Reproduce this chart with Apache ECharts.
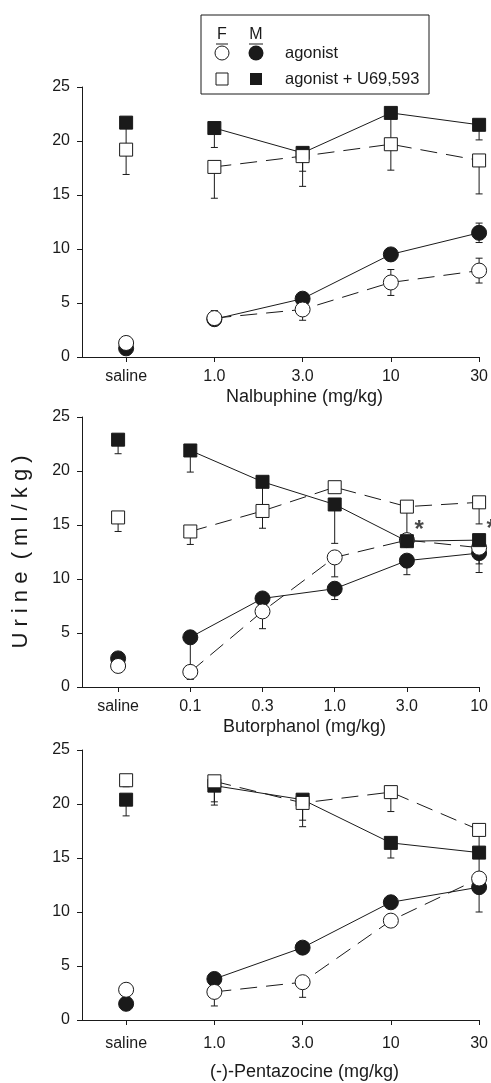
<!DOCTYPE html>
<html>
<head>
<meta charset="utf-8">
<script src="https://cdn.jsdelivr.net/npm/echarts@6/dist/echarts.min.js"></script>
<style>
  body { margin: 0; background: #fff; }
  #main { width: 491px; height: 1083px; }
</style>
</head>
<body>
<div id="main"></div>
<script>
// dose labels per panel
var nalbDoses = ['saline', '1.0', '3.0', '10', '30'];
var butoDoses = ['saline', '0.1', '0.3', '1.0', '3.0', '10'];
var pentDoses = ['saline', '1.0', '3.0', '10', '30'];
var yTicks = [0, 5, 10, 15, 20, 25];

// Nalbuphine: means and SEM (down / up)
var nalbFAg = [1.3, 3.6, 4.4, 6.9, 8.0];
var nalbFAgDn = [0, 0, 1.0, 1.2, 1.15];
var nalbFAgUp = [0, 0.7, 0, 1.2, 1.15];
var nalbMAg = [0.8, 3.5, 5.4, 9.5, 11.5];
var nalbMAgDn = [0, 0, 0, 0, 0.9];
var nalbMAgUp = [0, 0, 0, 0, 0.9];
var nalbFU = [19.2, 17.6, 18.6, 19.7, 18.2];
var nalbFUDn = [2.3, 2.9, 2.8, 2.4, 3.1];
var nalbMU = [21.7, 21.2, 18.9, 22.6, 21.5];
var nalbMUDn = [2.6, 1.8, 1.7, 3.0, 1.4];

// Butorphanol
var butoFAg = [1.95, 1.4, 7.0, 12.0, 13.6, 12.9];
var butoFAgDn = [0, 0.7, 1.6, 1.8, 0, 1.5];
var butoMAg = [2.65, 4.6, 8.2, 9.1, 11.7, 12.4];
var butoMAgDn = [0, 3.3, 0, 1.0, 1.3, 1.8];
var butoFU = [15.7, 14.4, 16.3, 18.5, 16.7, 17.1];
var butoFUDn = [1.3, 1.2, 1.6, 0, 3.2, 2.0];
var butoMU = [22.9, 21.9, 19.0, 16.9, 13.5, 13.6];
var butoMUDn = [1.3, 2.0, 2.7, 3.6, 0, 0];
var butoStars = [4, 5];
var butoStarY = [13.5, 13.6];

// Pentazocine
var pentFAg = [2.8, 2.6, 3.5, 9.2, 13.1];
var pentFAgDn = [0, 1.3, 1.4, 0, 0];
var pentMAg = [1.5, 3.8, 6.7, 10.9, 12.3];
var pentMAgDn = [0, 0, 0.2, 0, 2.3];
var pentFU = [22.2, 22.1, 20.1, 21.1, 17.6];
var pentFUDn = [0.6, 1.9, 1.6, 1.8, 2.1];
var pentMU = [20.4, 21.7, 20.4, 16.4, 15.5];
var pentMUDn = [1.5, 1.8, 2.5, 1.4, 2.4];

var ink = '#1a1a1a';
var font = 'Liberation Sans, Arial, sans-serif';

var panels = [
    { doses: nalbDoses, title: 'Nalbuphine (mg/kg)', top: 87, labelMargin: 12, nameGap: 31,
      fAg: nalbFAg, fAgDn: nalbFAgDn, fAgUp: nalbFAgUp, mAg: nalbMAg, mAgDn: nalbMAgDn, mAgUp: nalbMAgUp,
      fU: nalbFU, fUDn: nalbFUDn, mU: nalbMU, mUDn: nalbMUDn },
    { doses: butoDoses, title: 'Butorphanol (mg/kg)', top: 417, labelMargin: 12, nameGap: 31,
      fAg: butoFAg, fAgDn: butoFAgDn, mAg: butoMAg, mAgDn: butoMAgDn,
      fU: butoFU, fUDn: butoFUDn, mU: butoMU, mUDn: butoMUDn, stars: butoStars, starY: butoStarY },
    { doses: pentDoses, title: '(-)-Pentazocine (mg/kg)', top: 750, labelMargin: 16, nameGap: 43,
      fAg: pentFAg, fAgDn: pentFAgDn, mAg: pentMAg, mAgDn: pentMAgDn,
      fU: pentFU, fUDn: pentFUDn, mU: pentMU, mUDn: pentMUDn }
];

function pts(vals, from) {
    var out = [];
    for (var i = from; i < vals.length; i++) out.push([i, vals[i]]);
    return out;
}

function errPts(vals, dn, up) {
    var out = [];
    for (var i = 0; i < vals.length; i++) {
        var d = dn ? dn[i] : 0, u = up ? up[i] : 0;
        if (d > 0 || u > 0) out.push([i, vals[i], d, u]);
    }
    return out;
}

function renderErr(params, api) {
    var x = api.value(0), y = api.value(1), dn = api.value(2), up = api.value(3);
    var c = api.coord([x, y]);
    var kids = [];
    var ends = [];
    if (dn > 0) ends.push(api.coord([x, y - dn]));
    if (up > 0) ends.push(api.coord([x, y + up]));
    ends.forEach(function (p) {
        kids.push({ type: 'line', shape: { x1: c[0], y1: c[1], x2: p[0], y2: p[1] }, style: { stroke: ink, lineWidth: 1 } });
        kids.push({ type: 'line', shape: { x1: p[0] - 3.5, y1: p[1], x2: p[0] + 3.5, y2: p[1] }, style: { stroke: ink, lineWidth: 1 } });
    });
    return { type: 'group', children: kids };
}

var grids = [], xAxes = [], yAxes = [], series = [];

panels.forEach(function (p, k) {
    grids.push({ left: 82, top: p.top, width: 399, height: 270 });
    var idx = p.doses.map(function (d, i) { return i; });
    xAxes.push({
        type: 'value', gridIndex: k, min: -0.5, max: p.doses.length - 1,
        name: p.title, nameLocation: 'middle', nameGap: p.nameGap,
        nameTextStyle: { fontFamily: font, fontSize: 18, color: ink, padding: [0, 0, 0, 48] },
        axisLine: { onZero: false, lineStyle: { color: ink, width: 1 } },
        axisTick: { customValues: idx, length: 5, lineStyle: { color: ink } },
        axisLabel: {
            customValues: idx, margin: p.labelMargin, fontFamily: font, fontSize: 16, color: ink,
            formatter: function (v) { return p.doses[Math.round(v)]; }
        },
        splitLine: { show: false }
    });
    yAxes.push({
        type: 'value', gridIndex: k, min: 0, max: 25, interval: 5,
        name: k === 1 ? 'U r i n e  ( m l / k g )' : '',
        nameLocation: 'middle', nameGap: 50, nameRotate: 90,
        nameTextStyle: { fontFamily: font, fontSize: 22, color: ink },
        axisLine: { show: true, onZero: false, lineStyle: { color: ink, width: 1 } },
        axisTick: { show: true, length: 5, lineStyle: { color: ink } },
        axisLabel: { margin: 12, fontFamily: font, fontSize: 16, color: ink },
        splitLine: { show: false }
    });

    var ax = { xAxisIndex: k, yAxisIndex: k };
    function line(vals, dashed) {
        series.push(Object.assign({
            type: 'line', data: pts(vals, 1), showSymbol: false, silent: true, z: 2,
            lineStyle: { color: ink, width: 1, type: dashed ? [17, 9] : 'solid' }
        }, ax));
    }
    function err(vals, dn, up) {
        series.push(Object.assign({
            type: 'custom', renderItem: renderErr, data: errPts(vals, dn, up), silent: true, z: 3
        }, ax));
    }
    function marks(vals, sym, filled, size, z) {
        series.push(Object.assign({
            type: 'scatter', data: pts(vals, 0), symbol: sym, symbolSize: size, silent: true, z: z,
            itemStyle: { color: filled ? ink : '#fff', borderColor: ink, borderWidth: 1, opacity: 1 }
        }, ax));
    }

    line(p.mAg, false); line(p.fAg, true); line(p.mU, false); line(p.fU, true);
    err(p.mAg, p.mAgDn, p.mAgUp); err(p.fAg, p.fAgDn, p.fAgUp);
    err(p.mU, p.mUDn); err(p.fU, p.fUDn);
    marks(p.mAg, 'circle', true, 15, 4);
    marks(p.fAg, 'circle', false, 15, 5);
    marks(p.mU, 'rect', true, 13, 6);
    marks(p.fU, 'rect', false, 13, 7);

    if (p.stars) {
        series.push(Object.assign({
            type: 'scatter', symbolSize: 1, silent: true, z: 8,
            itemStyle: { color: 'rgba(0,0,0,0)' },
            data: p.stars.map(function (s, i) { return [s, p.starY[i]]; }),
            label: { show: true, formatter: '*', position: [8, -22], fontFamily: font, fontSize: 24, fontWeight: 'bold', color: ink }
        }, ax));
    }
});

// legend box drawn as graphics
var legend = [
    { type: 'rect', shape: { x: 201, y: 15, width: 228, height: 79 }, style: { fill: '#fff', stroke: ink, lineWidth: 1 }, z: 20 },
    { type: 'text', x: 222, y: 35, style: { text: 'F', font: '16px ' + font, fill: ink, align: 'center', verticalAlign: 'middle' }, z: 21 },
    { type: 'text', x: 256, y: 35, style: { text: 'M', font: '16px ' + font, fill: ink, align: 'center', verticalAlign: 'middle' }, z: 21 },
    { type: 'line', shape: { x1: 216, y1: 44, x2: 228, y2: 44 }, style: { stroke: ink, lineWidth: 1 }, z: 21 },
    { type: 'line', shape: { x1: 249, y1: 44, x2: 263, y2: 44 }, style: { stroke: ink, lineWidth: 1 }, z: 21 },
    { type: 'circle', shape: { cx: 222, cy: 53, r: 7 }, style: { fill: '#fff', stroke: ink, lineWidth: 1 }, z: 21 },
    { type: 'circle', shape: { cx: 256, cy: 53, r: 7.5 }, style: { fill: ink }, z: 21 },
    { type: 'text', x: 285, y: 53, style: { text: 'agonist', font: '16.5px ' + font, fill: ink, verticalAlign: 'middle' }, z: 21 },
    { type: 'rect', shape: { x: 216, y: 73, width: 12, height: 12 }, style: { fill: '#fff', stroke: ink, lineWidth: 1 }, z: 21 },
    { type: 'rect', shape: { x: 250, y: 73, width: 12, height: 12 }, style: { fill: ink }, z: 21 },
    { type: 'text', x: 285, y: 79, style: { text: 'agonist + U69,593', font: '16.5px ' + font, fill: ink, verticalAlign: 'middle' }, z: 21 }
];

var myChart = echarts.init(document.getElementById('main'), null, { renderer: 'canvas' });
myChart.setOption({
    animation: false,
    backgroundColor: '#fff',
    grid: grids,
    xAxis: xAxes,
    yAxis: yAxes,
    series: series,
    graphic: legend
});
</script>
</body>
</html>
